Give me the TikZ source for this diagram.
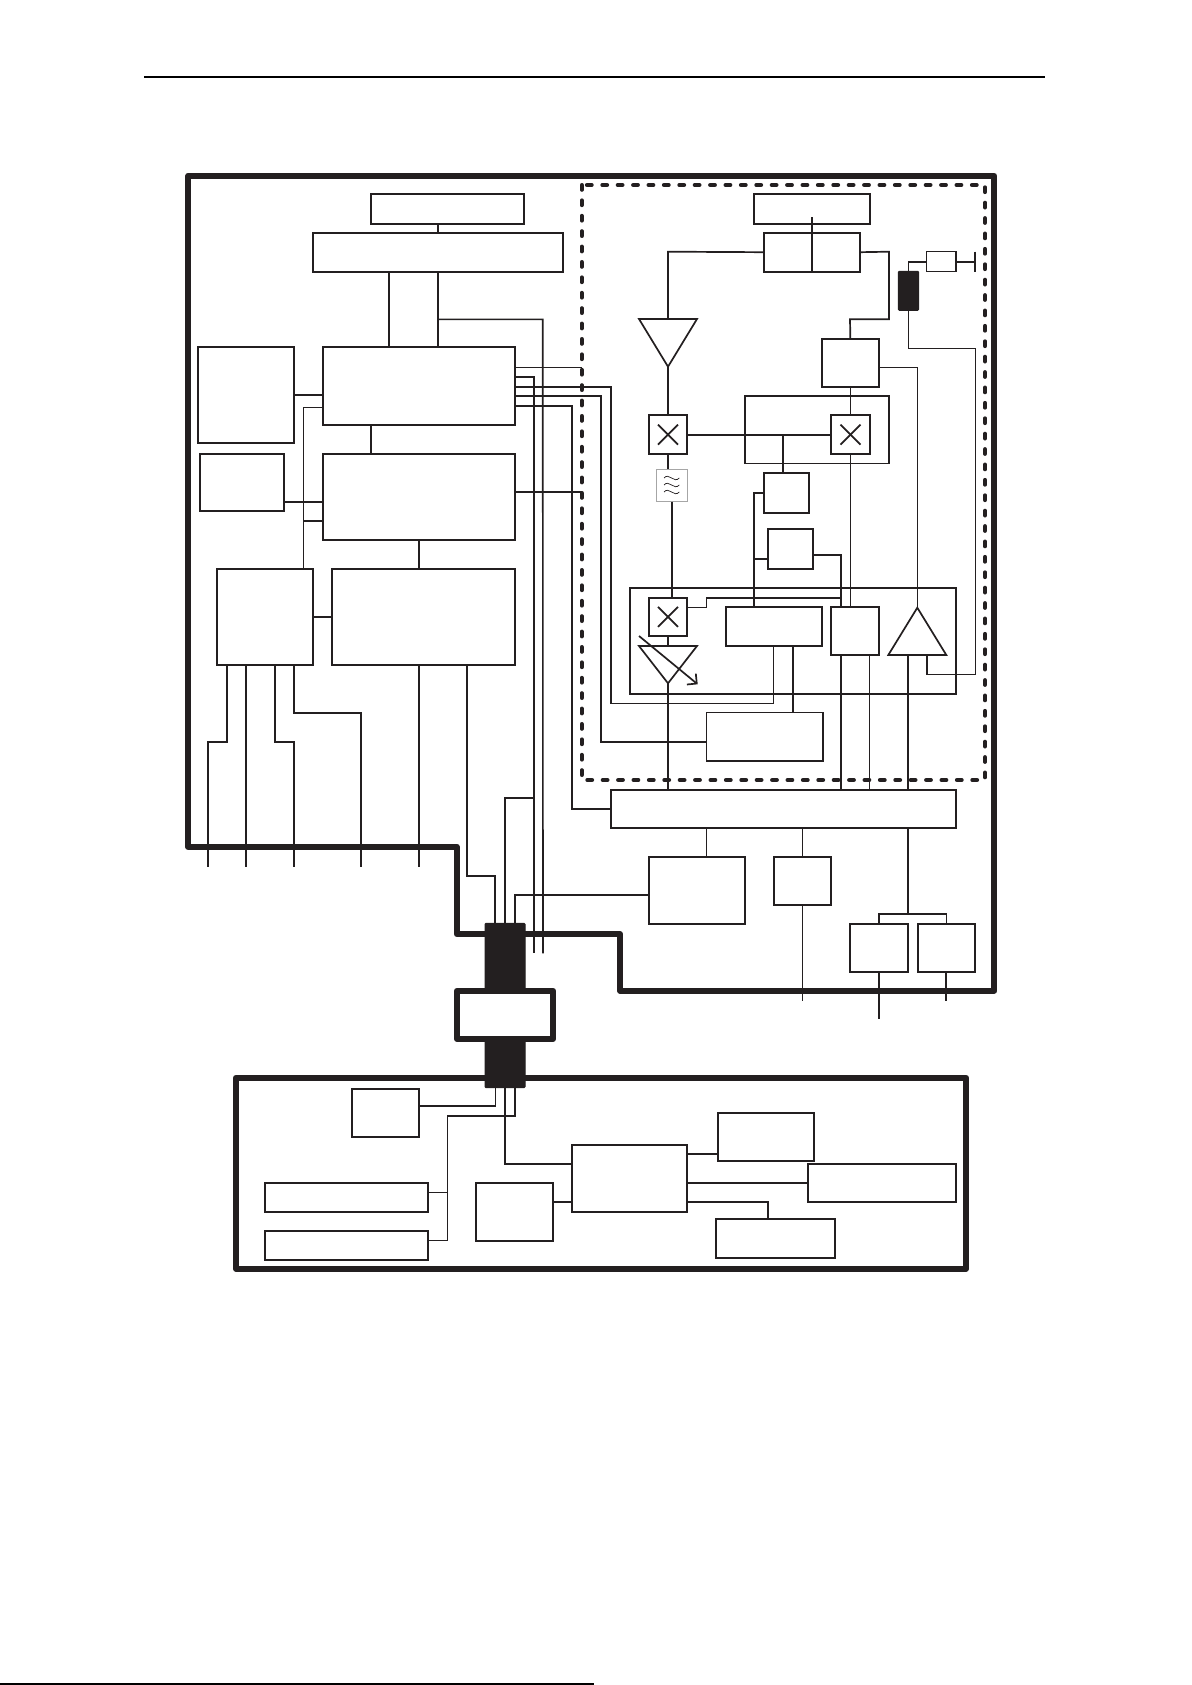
\documentclass[tikz,border=0pt]{standalone}
\usepackage{xcolor}
\usetikzlibrary{shapes.geometric, arrows.meta, positioning}
\definecolor{ink}{HTML}{231F20}

\begin{document}
\begin{tikzpicture}[
  x=0.5pt, y=-0.5pt,
  sz/.style 2 args={minimum width=#1*0.5pt, minimum height=#2*0.5pt},
  block/.style={rectangle, draw=ink, line width=0.85pt, inner sep=0pt, outer sep=0pt},
  thinblock/.style={block, line width=0.75pt},
  mixer/.style={block, line width=1pt, sz={38.6}{38.6},
    path picture={
      \draw[lnk] ([xshift=-5pt,yshift=-5pt]path picture bounding box.center) -- ([xshift=5pt,yshift=5pt]path picture bounding box.center);
      \draw[lnk] ([xshift=-5pt,yshift=5pt]path picture bounding box.center) -- ([xshift=5pt,yshift=-5pt]path picture bounding box.center);
    }},
  plugblack/.style={rectangle, fill=ink, draw=ink, line width=0.5pt, rounded corners=0.5pt, inner sep=0pt, outer sep=0pt},
  amp/.style={isosceles triangle, isosceles triangle stretches, draw=ink, line width=0.85pt,
    inner sep=0pt, outer sep=0pt},
  frame/.style={draw=ink, line width=3pt, line join=round},
  lnk/.style={draw=ink, line width=0.85pt},
  thinlnk/.style={draw=ink, line width=0.8pt}
]
\useasboundingbox (0,0) rectangle (1191,1685);

% Page rules
\draw[draw=black, line width=0.8pt] (144,76.8) -- (1045,76.8);
\draw[draw=black, line width=0.7pt] (0,1684) -- (594,1684);

% Outer frames
\draw[frame] (188.3,175.7) -- (994.3,175.7) -- (994.3,990.7) -- (620,990.7) -- (620,934)
  -- (456.7,934) -- (456.7,846.7) -- (188.3,846.7) -- cycle;
\draw[draw=ink, line width=2pt, line cap=round, dash pattern=on 2.4pt off 5.3pt]
  (581.7,185) rectangle (985,780);
\node[block, frame, sz={730}{191}] (lower) at (601,1173.2) {};

% Left column
\node[block, sz={153.3}{29.4}] (disp) at (447.35,209) {};
\node[block, sz={250.3}{39.3}] (ctrl) at (437.85,252.35) {};
\node[block, sz={192.3}{78.3}] (cpu) at (418.85,385.85) {};
\node[block, sz={96.3}{96.3}] (mema) at (245.85,394.85) {};
\node[block, sz={84}{57.6}] (memb) at (242,482.5) {};
\node[block, sz={192.3}{86}] (dsp) at (418.85,496.7) {};
\node[block, sz={96.6}{96.3}] (codec) at (265,616.85) {};
\node[block, sz={183.3}{96.3}] (base) at (423.35,616.85) {};

% RF top
\node[block, sz={115.7}{29.4}] (ant) at (812.15,209) {};
\node[block, sz={96.3}{39}] (dup) at (811.85,252.2) {};
\node[block, sz={57.3}{48}] (sw) at (850.35,363) {};
\node[thinblock, sz={144}{67.3}] (shield) at (817,429.65) {};
\node[plugblack, sz={20.4}{39}] (coil) at (908.5,290.8) {};
\node[thinblock, sz={29.3}{20}] (res) at (941.35,261.7) {};
\node[amp, shape border rotate=-90, anchor=apex, sz={58}{47.7}] (lna) at (668,366.7) {};
\node[mixer] (mixa) at (668,434.65) {};
\node[mixer] (mixb) at (850.5,434.65) {};
\node[rectangle, draw=gray!70, line width=0.5pt, inner sep=0pt, outer sep=0pt, sz={31.4}{32.7}] (filt) at (672,485.35) {};
\foreach \ty in {478,485,492}
  \draw[draw=ink, line width=0.35pt] (664,\ty) .. controls (669,\ty-6) and (674,\ty+6) .. (679.3,\ty);
\node[block, sz={45.3}{40}] (vcoa) at (786.35,492.7) {};
\node[block, sz={45.3}{39.7}] (vcob) at (790.35,548.85) {};

% RF chip
\node[block, sz={326}{105.7}] (chip) at (793,640.85) {};
\node[mixer] (mixc) at (668,616.85) {};
\node[amp, shape border rotate=-90, anchor=apex, sz={58}{37.3}] (vga) at (668,683.3) {};
\node[block, sz={96.3}{39.3}] (synth) at (773.85,626.35) {};
\node[block, sz={48.3}{48.3}] (drv) at (854.85,630.85) {};
\node[amp, shape border rotate=90, anchor=apex, sz={58}{47.3}] (pa) at (917.3,607.7) {};
\node[thinblock, sz={116.3}{48.3}] (pll) at (764.85,736.85) {};

% Lower right
\node[block, sz={345.3}{38}] (bus) at (783.35,808.7) {};
\node[block, sz={96.3}{67.3}] (sim) at (696.85,890.35) {};
\node[block, sz={57.3}{48.3}] (vib) at (802.35,880.85) {};
\node[block, sz={58.3}{48.3}] (spk) at (878.85,947.85) {};
\node[block, sz={57.3}{48.3}] (mic) at (946.35,947.85) {};

% Handset
\node[block, sz={67.3}{48.3}] (key) at (385.35,1112.85) {};
\node[block, sz={163.6}{29.3}] (lcda) at (346.5,1197.35) {};
\node[block, sz={163.6}{29.3}] (lcdb) at (346.5,1245.35) {};
\node[block, sz={77.3}{58.3}] (batt) at (514.35,1211.85) {};
\node[block, sz={115.3}{67.3}] (pwr) at (629.35,1178.35) {};
\node[block, sz={96.3}{48}] (chg) at (765.85,1136.7) {};
\node[block, sz={148.6}{38.3}] (ext) at (882,1182.85) {};
\node[block, sz={119.3}{39.3}] (aux) at (775.35,1238.35) {};

% Free ends
\coordinate (outa) at (207.7,866.7);
\coordinate (outb) at (246,866.7);
\coordinate (outc) at (294,866.7);
\coordinate (outd) at (361,866.7);
\coordinate (oute) at (419,866.7);
\coordinate (outf) at (534,953.3);
\coordinate (outg) at (543,953.3);
\coordinate (outh) at (802.35,1000.7);
\coordinate (outi) at (878.85,1019.3);
\coordinate (outj) at (946,1000.7);
\coordinate (antin) at (811.85,217.3);

% Connector body
\node[plugblack, sz={40}{164.4}] (plug) at (505,1005.5) {};
\node[block, frame, fill=white, sz={96}{48.3}] (joint) at (505,1014.85) {};

% Arrows left
\draw[lnk] (disp.south -| ctrl.north) -- (ctrl.north);
\draw[lnk] (ctrl.south -| 389,0) -- (cpu.north -| 389,0);
\draw[lnk] (ctrl.south) -- (cpu.north -| ctrl.south);
\draw[thinlnk] (ctrl.south |- 0,319.3) -- (542.7,319.3) -- (outg);
\draw[lnk] (mema.east |- 0,394.7) -- (cpu.west |- 0,394.7);
\draw[lnk] (memb.east |- 0,501.7) -- (dsp.west |- 0,501.7);
\draw[thinlnk] (cpu.west |- 0,407.3) -- (303.3,407.3) -- (codec.north -| 303.3,0);
\draw[lnk] (303.3,520.7) -- (dsp.west |- 0,520.7);
\draw[lnk] (cpu.south -| 371,0) -- (dsp.north -| 371,0);
\draw[lnk] (dsp.south -| 418.85,0) -- (418.85,568.7);
\draw[lnk] (codec.east) -- (base.west);

% CPU and DSP to RF
\draw[thinlnk] (cpu.east |- 0,367.3) -- (581.7,367.3);
\draw[lnk] (cpu.east |- 0,376.7) -- (534,376.7) -- (outf);
\draw[thinlnk] (cpu.east |- 0,386.7) -- (610.7,386.7) -- (610.7,703.3) -- (773.3,703.3) -- (synth.south -| 773.3,0);
\draw[lnk] (cpu.east |- 0,395.7) -- (601,395.7) -- (601,741.7) -- (pll.west |- 0,741.7);
\draw[lnk] (cpu.east |- 0,405.7) -- (572,405.7) -- (572,808.7) -- (bus.west);
\draw[lnk] (dsp.east |- 0,492) -- (581.7,492);

% Outputs
\draw[lnk] (codec.south -| 227,0) -- (227,741.7) -- (207.7,741.7) -- (outa);
\draw[lnk] (codec.south -| outb) -- (outb);
\draw[lnk] (codec.south -| 275,0) -- (275,741.7) -- (294,741.7) -- (outc);
\draw[lnk] (codec.south -| 294,0) -- (294,712.7) -- (361,712.7) -- (outd);
\draw[lnk] (base.south -| oute) -- (oute);
\draw[lnk] (base.south -| 466.7,0) -- (466.7,875.7) -- (495,875.7) -- (plug.north -| 495,0);
\draw[lnk] (plug.north) -- (505,798.3) -- (533.3,798.3);
\draw[lnk] (plug.north -| 515,0) -- (515,894.7) -- (sim.west |- 0,894.7);

% RF receive chain
\draw[lnk] (antin) -- (dup.south -| antin);
\draw[lnk] (dup.west) -- (668,251.7) -- (lna.lower side);
\draw[lnk] (dup.east) -- (889,251.7) -- (889,319.3) -- (850,319.3) -- (sw.north);
\draw[lnk] (lna.apex) -- (mixa.north);
\draw[lnk] (mixa.east) -- (mixb.west);
\draw[lnk] (sw.south) -- (mixb.north -| sw.south);
\draw[lnk] (mixa.south) -- (filt.north -| mixa.south);
\draw[thinlnk] (filt.south) -- (mixc.north -| filt.south);
\draw[lnk] (vcoa.north -| 782.7,0) -- (782.7,435);
\draw[thinlnk] (vcoa.west) -- (754,492.7) -- (synth.north -| 754,0);
\draw[thinlnk] (vcob.west |- 0,559) -- (754,559);
\draw[lnk] (vcob.east |- 0,555) -- (840.7,555) -- (drv.north -| 840.7,0);
\draw[thinlnk] (mixb.south) -- (drv.north -| mixb.south);
\draw[thinlnk] (mixc.east |- 0,607.3) -- (706.3,607.3) -- (706.3,598) -- (840.7,598);
\draw[lnk] (mixc.south) -- (vga.lower side);
\draw[lnk] (vga.apex) -- (bus.north -| vga.apex);
\draw[lnk, -{Straight Barb[length=3.5pt,width=7pt]}] (639,636) -- (697.7,684.3);

% PA and antenna side
\draw[lnk] (coil.north) -- (908.5,261.7) -- (res.west);
\draw[lnk] (res.east) -- (975,261.7);
\draw[lnk] (975,251.7) -- (975,271.7);
\draw[thinlnk] (coil.south) -- (908.5,348.3) -- (975.3,348.3) -- (975.3,674.3) -- (927,674.3) -- (927,655);
\draw[thinlnk] (sw.east |- 0,367.3) -- (917.3,367.3) -- (pa.apex);
\draw[lnk] (synth.south -| 792.7,0) -- (pll.north -| 792.7,0);
\draw[lnk] (drv.south -| 840.7,0) -- (bus.north -| 840.7,0);
\draw[thinlnk] (drv.south -| 869.3,0) -- (bus.north -| 869.3,0);
\draw[lnk] (908,655) -- (bus.north -| 908,0);

% Below the bus
\draw[thinlnk] (bus.south -| 706.3,0) -- (sim.north -| 706.3,0);
\draw[thinlnk] (bus.south -| vib.north) -- (vib.north);
\draw[thinlnk] (vib.south) -- (outh);
\draw[lnk] (bus.south -| 908,0) -- (908,914);
\draw[thinlnk] (spk.north) -- (878.85,914) -- (946.35,914) -- (mic.north);
\draw[lnk] (spk.south) -- (outi);
\draw[lnk] (mic.south -| outj) -- (outj);

% Handset links
\draw[thinlnk] (key.east |- 0,1106) -- (495.3,1106) -- (plug.south -| 495.3,0);
\draw[thinlnk] (plug.south -| 514.7,0) -- (514.7,1116) -- (447.3,1116) -- (447.3,1240.3) -- (lcdb.east |- 0,1240.3);
\draw[thinlnk] (lcda.east |- 0,1192.3) -- (447.3,1192.3);
\draw[lnk] (plug.south) -- (505,1163.7) -- (pwr.west |- 0,1163.7);
\draw[lnk] (batt.east |- 0,1202) -- (pwr.west |- 0,1202);
\draw[lnk] (pwr.east |- 0,1154) -- (chg.west |- 0,1154);
\draw[lnk] (pwr.east |- 0,1183) -- (ext.west |- 0,1183);
\draw[lnk] (pwr.east |- 0,1202.3) -- (768,1202.3) -- (aux.north -| 768,0);
\end{tikzpicture}
\end{document}
